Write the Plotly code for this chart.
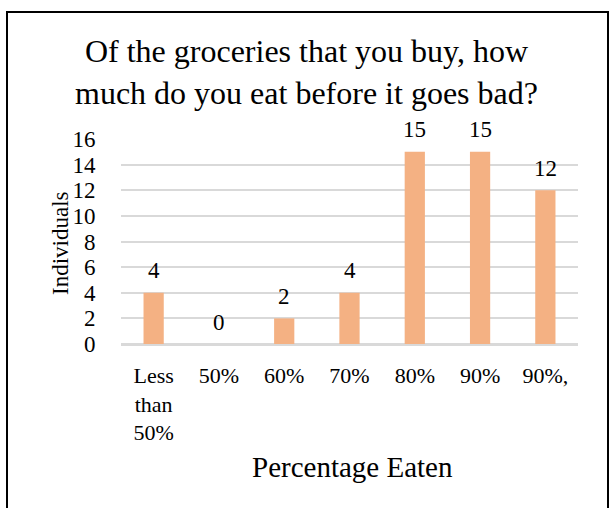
import plotly.graph_objects as go

categories = ["Less<br>than<br>50%", "50%", "60%", "70%", "80%", "90%", "90%,"]
values = [4, 0, 2, 4, 15, 15, 12]
y_ticks = [0, 2, 4, 6, 8, 10, 12, 14, 16]

title_text = "Of the groceries that you buy, how<br>much do you eat before it goes bad?"
x_title = "Percentage Eaten"
y_title = "Individuals"

FONT = "Liberation Serif, Times New Roman, serif"
W, H = 613, 508
L, R, T, B = 121, 578, 139, 344  # plot area pixel box

xpos = list(range(len(categories)))

fig = go.Figure()
fig.add_trace(go.Bar(
    x=xpos, y=values,
    marker=dict(color="#F4B183", line=dict(width=0)),
    width=0.31,
    hoverinfo="skip",
))

annotations = []
for xi, v in zip(xpos, values):
    annotations.append(dict(
        x=xi, y=v, xref="x", yref="y", text=str(v), showarrow=False,
        yanchor="middle", yshift=22,
        font=dict(family=FONT, size=23, color="#000000"),
    ))

def px_x(p):
    return (p - L) / (R - L)

def px_y(p):
    return (B - p) / (B - T)

annotations.append(dict(
    x=px_x(306.5), y=px_y(72), xref="paper", yref="paper", text=title_text,
    showarrow=False, xanchor="center", yanchor="middle",
    font=dict(family=FONT, size=32, color="#000000"),
))
annotations.append(dict(
    x=px_x(352), y=px_y(467), xref="paper", yref="paper", text=x_title,
    showarrow=False, xanchor="center", yanchor="middle",
    font=dict(family=FONT, size=29, color="#000000"),
))
annotations.append(dict(
    x=px_x(60), y=px_y(243), xref="paper", yref="paper", text=y_title,
    showarrow=False, xanchor="center", yanchor="middle", textangle=-90,
    font=dict(family=FONT, size=23, color="#000000"),
))

fig.update_layout(
    width=W, height=H,
    margin=dict(l=L, r=W - R, t=T, b=H - B, pad=0),
    paper_bgcolor="white", plot_bgcolor="white",
    showlegend=False,
    xaxis=dict(
        tickmode="array", tickvals=xpos, ticktext=categories,
        range=[-0.5, len(categories) - 0.5],
        showgrid=False, zeroline=False, showline=True,
        linecolor="#D9D9D9", linewidth=1.5,
        ticks="outside", ticklen=11, tickcolor="rgba(0,0,0,0)",
        tickfont=dict(family=FONT, size=22, color="#000000"),
        fixedrange=True,
    ),
    yaxis=dict(
        range=[0, 16], tickmode="array", tickvals=y_ticks,
        showgrid=True, gridcolor="#D9D9D9", gridwidth=1.5,
        zeroline=True, zerolinecolor="#D9D9D9", zerolinewidth=1.5,
        showline=False,
        ticks="outside", ticklen=20, tickcolor="rgba(0,0,0,0)",
        tickfont=dict(family=FONT, size=23, color="#000000"),
        fixedrange=True,
    ),
    annotations=annotations,
    shapes=[dict(
        type="rect", xref="paper", yref="paper",
        x0=px_x(7), x1=px_x(608), y0=px_y(530), y1=px_y(12),
        line=dict(color="#000000", width=2), fillcolor="rgba(0,0,0,0)",
        layer="above",
    )],
)

fig.write_html("out.html", config={"displayModeBar": False})
